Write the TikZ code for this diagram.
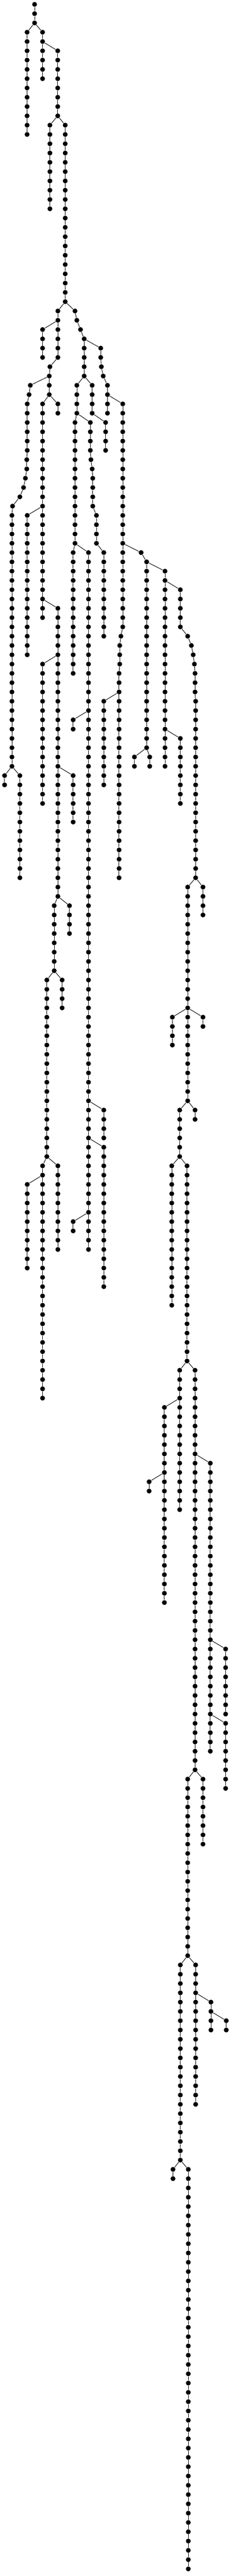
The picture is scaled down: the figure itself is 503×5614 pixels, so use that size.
\documentclass[tikz,border=0pt]{standalone}
\usepackage{tikz}
\tikzset{dot/.style={circle,fill=black,inner sep=0pt,minimum size=10.6pt}}
\begin{document}
\begin{tikzpicture}[x=1pt,y=-1pt,line width=1.1pt]
\useasboundingbox (0,0) rectangle (503,5614);
\foreach \nm/\x/\lo/\hi in {r/75.3/0/2,a/59/3/14,b/92.7/3/8,c/125.7/5/12,d/108.7/13/22,e/142/13/32,
  f/126/33/38,h/92.7/35/38,i/108.7/39/39,ii/107.3/40/42,l/126/43/44,k/92.7/43/66,m/59.3/55/70,
  j1/66/41/41,j2/63.3/42/42,j3/59.3/43/48,j4/58.3/49/50,j5/55.3/51/51,j6/51.3/52/52,j7/43.3/53/53,j8/27.3/54/54,
  o/26/55/82,p/10/83/84,q/43.3/83/94,n/126/65/96,s/92.7/71/86,t/159.3/83/88,v/151.3/97/100,u/118/97/104,
  x/135.3/105/108,w/102/105/124,z/126/125/134,y/92.7/125/150,aa/59.3/127/136,
  g1/163.3/33/33,g2/167.3/34/34,g3/175.3/35/35,g/183.3/36/40,ab/219.3/37/38,ab3/220.7/39/39,ab4/224.7/40/40,ab5/234/41/44,
  af/267.3/43/67,ah1/263.3/68/68,ah/260.7/69/71,ai/259.3/72/94,aj/226/75/84,ag/307.3/59/59,ak/319.3/60/80,
  am/292.7/81/82,an/326/81/82,al/359.3/61/82,ap/392.7/79/86,ao/392.7/63/67,
  aq1/408.7/68/68,aq2/416.7/69/69,aq3/420.7/70/70,aq4/423.3/71/71,aq5/424.7/72/74,ar/426/75/94,
  at/442/95/98,as/408.7/95/118,au/375.3/109/112,aw/442/109/110,ay/424.7/119/120,ax/391.3/119/124,
  az/374/125/140,ba/407.3/125/146,bb/391.3/147/162,bd/358/151/172,be/324.7/159/160,bc/424.7/147/190,
  bf/458/157/188,bi/491.3/177/184,bj/491.3/185/192,bh/442/191/198,bg/408.7/191/210,bl/426/211/226,
  bm/459.3/215/218,bn/492.7/217/218,bk/392.7/211/232,bo/376.7/233/234,bp/410/233/276,
  ac/167.3/41/44,ad/200.7/41/44,bs/230/45/48,bq/163.3/45/58,bt/159.3/59/72,bu/192.7/59/134,
  bv/159.3/77/78,bw/226/119/122,bx/226/123/138,by/159.3/131/132,
  br1/196.7/45/48,br2/198/49/49,br3/200.7/50/50,br4/202/51/54,br5/210/55/58,bz/226/59/68} {
  \foreach \lv in {\lo,...,\hi} \node[dot] (\nm-\lv) at (\x,{9.5+20.25*\lv}) {};
  \ifnum\lo<\hi
    \pgfmathtruncatemacro\nl{\lo+1}
    \foreach \lv in {\nl,...,\hi} {
      \pgfmathtruncatemacro\pl{\lv-1}
      \draw (\nm-\pl) -- (\nm-\lv);
    }
  \fi
}
\foreach \u/\v in {r-2/a-3,r-2/b-3,b-4/c-5,c-12/d-13,c-12/e-13,e-32/f-33,e-32/g1-33,f-34/h-35,f-38/i-39,
  i-39/ii-40,ii-40/j1-41,ii-42/l-43,ii-42/k-43,k-54/m-55,k-64/n-65,j1-41/j2-42,j2-42/j3-43,j3-48/j4-49,
  j4-50/j5-51,j5-51/j6-52,j6-52/j7-53,j7-53/j8-54,j8-54/o-55,o-82/p-83,o-82/q-83,n-70/s-71,n-82/t-83,
  n-96/u-97,n-96/v-97,u-104/w-105,u-104/x-105,w-124/y-125,w-124/z-125,y-126/aa-127,
  g1-33/g2-34,g2-34/g3-35,g3-35/g-36,g-36/ab-37,g-40/ac-41,g-40/ad-41,ab-38/ab3-39,ab3-39/ab4-40,
  ab4-40/ab5-41,ab5-42/af-43,af-58/ag-59,af-67/ah1-68,ah1-68/ah-69,ah-71/ai-72,ai-74/aj-75,ag-59/ak-60,
  ak-60/al-61,ak-80/am-81,ak-80/an-81,al-62/ao-63,al-78/ap-79,ao-67/aq1-68,aq1-68/aq2-69,aq2-69/aq3-70,
  aq3-70/aq4-71,aq4-71/aq5-72,aq5-74/ar-75,ar-94/as-95,ar-94/at-95,as-108/au-109,as-108/aw-109,
  as-118/ax-119,as-118/ay-119,ax-124/az-125,ax-124/ba-125,ba-146/bb-147,ba-146/bc-147,bb-150/bd-151,
  bd-158/be-159,bc-156/bf-157,bc-190/bg-191,bc-190/bh-191,bf-176/bi-177,bf-184/bj-185,bg-210/bk-211,
  bg-210/bl-211,bl-214/bm-215,bm-216/bn-217,bk-232/bo-233,bk-232/bp-233,
  ac-44/bq-45,ac-44/br1-45,ad-44/bs-45,bq-58/bt-59,bq-58/bu-59,bu-76/bv-77,bu-118/bw-119,bu-122/bx-123,
  bu-130/by-131,br1-48/br2-49,br2-49/br3-50,br3-50/br4-51,br4-54/br5-55,br5-58/bz-59}
  \draw (\u) -- (\v);
\end{tikzpicture}
\end{document}
